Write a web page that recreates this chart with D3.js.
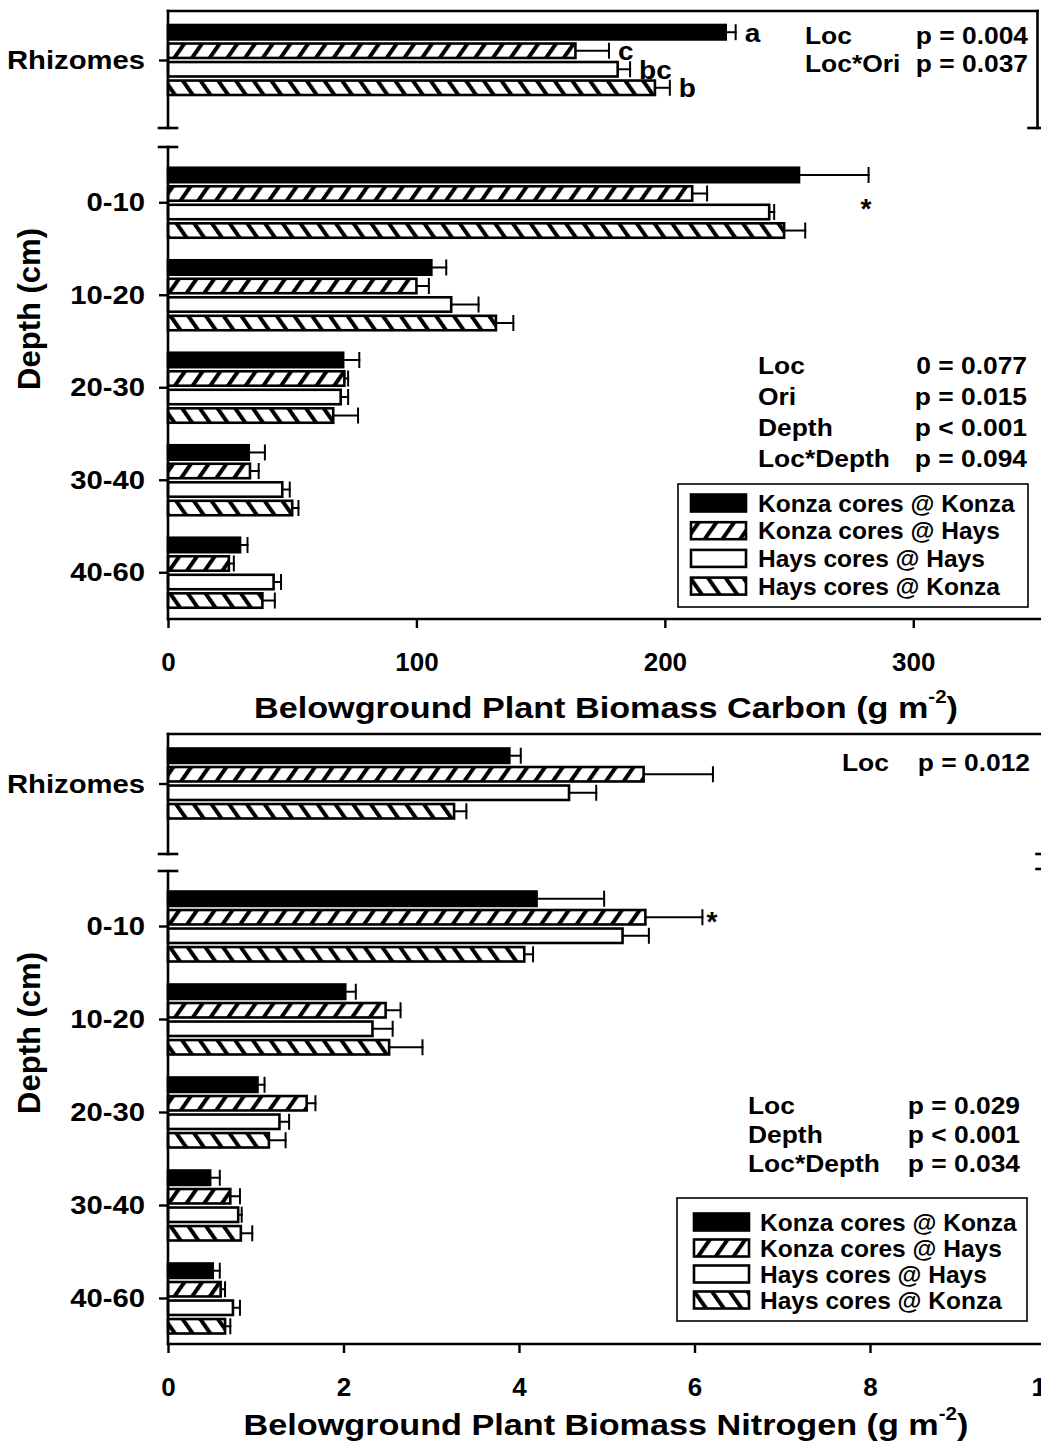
<!DOCTYPE html>
<html>
<head>
<meta charset="utf-8">
<script src="https://cdn.jsdelivr.net/npm/d3@7"></script>
<style>
  body { margin: 0; background: #fff; }
  svg { display: block; }
  text { font-family: "Liberation Sans", Arial, Helvetica, sans-serif; font-weight: bold; fill: #000; }
</style>
</head>
<body>
<svg id="fig" width="1041" height="1450"></svg>
<script>
// ---- data ----
const series = ["Konza cores @ Konza", "Konza cores @ Hays", "Hays cores @ Hays", "Hays cores @ Konza"];
const depths = ["0-10", "10-20", "20-30", "30-40", "40-60"];
const rhizomeCat = ["Rhizomes"];

// Belowground plant biomass carbon (g m-2): means and standard errors
const carbonRhizome = [224.5, 164, 181, 196];
const carbonRhizomeSE = [4, 13.5, 5, 6];
const carbonRhizomeLetters = ["a", "c", "bc", "b"];
const carbonDepth = [
  [254, 211, 242, 248],
  [106, 100, 114, 132],
  [70.5, 71, 69.5, 66.5],
  [32.5, 33, 46, 50],
  [29, 24.5, 42.5, 38]
];
const carbonDepthSE = [
  [28, 6, 2, 8.5],
  [6, 5, 11, 7],
  [6.5, 1.5, 3, 10],
  [6.5, 3.5, 3, 2.5],
  [3, 2, 3, 5]
];
const carbonTicks = [0, 100, 200, 300];

// Belowground plant biomass nitrogen (g m-2)
const nitroRhizome = [3.89, 5.42, 4.57, 3.26];
const nitroRhizomeSE = [0.13, 0.79, 0.31, 0.14];
const nitroDepth = [
  [4.20, 5.44, 5.18, 4.06],
  [2.02, 2.48, 2.33, 2.52],
  [1.02, 1.58, 1.27, 1.15],
  [0.48, 0.71, 0.80, 0.83],
  [0.51, 0.60, 0.74, 0.65]
];
const nitroDepthSE = [
  [0.77, 0.65, 0.30, 0.10],
  [0.12, 0.17, 0.23, 0.38],
  [0.08, 0.10, 0.11, 0.19],
  [0.11, 0.11, 0.04, 0.13],
  [0.08, 0.05, 0.08, 0.06]
];
const nitroTicks = [0, 2, 4, 6, 8, 10];

// Statistics printed on the panels
const carbonRhizomeStats = [["Loc", "p = 0.004"], ["Loc*Ori", "p = 0.037"]];
const carbonDepthStats = [["Loc", "0 = 0.077"], ["Ori", "p = 0.015"], ["Depth", "p < 0.001"], ["Loc*Depth", "p = 0.094"]];
const nitroRhizomeStats = [["Loc", "p = 0.012"]];
const nitroDepthStats = [["Loc", "p = 0.029"], ["Depth", "p < 0.001"], ["Loc*Depth", "p = 0.034"]];

// ---- drawing ----
const svg = d3.select("#fig");
const defs = svg.append("defs");

// diagonal hatching: "fwd" = /, "back" = \
function hatch(id, angle) {
  const p = defs.append("pattern")
    .attr("id", id)
    .attr("patternUnits", "userSpaceOnUse")
    .attr("width", 14.5).attr("height", 14.5)
    .attr("patternTransform", `rotate(${angle})`);
  p.append("rect").attr("width", 14.5).attr("height", 14.5).attr("fill", "#fff");
  p.append("rect").attr("x", 0).attr("width", 4).attr("height", 14.5).attr("fill", "#000");
}
hatch("fwd", 35);
hatch("back", -35);
const fills = ["#000", "url(#fwd)", "#fff", "url(#back)"];

function line(g, x1, y1, x2, y2, w = 2.6) {
  g.append("line").attr("x1", x1).attr("y1", y1).attr("x2", x2).attr("y2", y2)
    .attr("stroke", "#000").attr("stroke-width", w).attr("stroke-linecap", "square");
}

function label(g, x, y, s, size, opts = {}) {
  const sx = opts.sx || 1;
  return g.append("text")
    .attr("transform", `translate(${x},${y}) scale(${sx},1)`)
    .attr("font-size", size)
    .attr("text-anchor", opts.anchor || "start")
    .attr("dominant-baseline", opts.baseline || "central")
    .text(s);
}

function drawGroup(g, x, yCenter, inner, vals, ses) {
  const x0 = x(0);
  vals.forEach((v, i) => {
    const y = yCenter + inner(series[i]);
    const h = inner.bandwidth();
    const xe = x(v + ses[i]);
    // error bar
    line(g, x(v), y + h / 2, xe, y + h / 2, 2);
    line(g, xe, y + h / 2 - 7, xe, y + h / 2 + 7, 2);
    g.append("rect")
      .attr("x", x0).attr("y", y)
      .attr("width", x(v) - x0).attr("height", h)
      .attr("fill", fills[i]).attr("stroke", "#000").attr("stroke-width", 2.6);
  });
}

function legend(g, x0, y0, w, h, swX, rowY, txtX) {
  g.append("rect").attr("x", x0).attr("y", y0).attr("width", w).attr("height", h)
    .attr("fill", "#fff").attr("stroke", "#000").attr("stroke-width", 1.6);
  series.forEach((s, i) => {
    const cy = rowY(i);
    g.append("rect").attr("x", swX).attr("y", cy - 8.5).attr("width", 55).attr("height", 17)
      .attr("fill", fills[i]).attr("stroke", "#000").attr("stroke-width", 2.6);
    label(g, txtX, cy, s, 24.5);
  });
}

// two-column statistics block; the value column is right-aligned
function stats(g, rows, x1, x2end, y0, dy, size, sx) {
  rows.forEach((r, i) => {
    label(g, x1, y0 + i * dy, r[0], size, { sx });
    label(g, x2end, y0 + i * dy, r[1], size, { sx, anchor: "end" });
  });
}

function panel(cfg) {
  const g = svg.append("g");
  const x = d3.scaleLinear().domain(cfg.xDomain).range([168, cfg.xRight]);
  const yR = d3.scaleBand().domain(rhizomeCat).range(cfg.rhizRange);
  const yD = d3.scaleBand().domain(depths).range(cfg.depthRange);
  const inner = d3.scaleBand().domain(series).range([-35, 35]).paddingInner(0.22);

  const rc = yR("Rhizomes") + yR.bandwidth() / 2;
  // bars
  drawGroup(g, x, rc, inner, cfg.rhiz, cfg.rhizSE);
  depths.forEach((d, k) => {
    drawGroup(g, x, yD(d) + yD.bandwidth() / 2, inner, cfg.depth[k], cfg.depthSE[k]);
  });

  // frame and broken axes
  const top = cfg.rhizRange[0] - cfg.rhizTopPad;
  const xr = x(cfg.xDomain[1]);
  line(g, 168, top, xr, top);
  line(g, 168, top, 168, cfg.breakTop);
  line(g, 159, cfg.breakTop, 177, cfg.breakTop);
  line(g, 159, cfg.breakBottom, 177, cfg.breakBottom);
  line(g, 168, cfg.breakBottom, 168, cfg.axisY);
  line(g, xr, top, xr, cfg.breakTop);
  line(g, xr - 9, cfg.breakTop, xr + 9, cfg.breakTop);
  if (cfg.rightBreak2) line(g, xr - 9, cfg.breakBottom - 2, xr + 9, cfg.breakBottom - 2);
  line(g, 168, cfg.axisY, 1041, cfg.axisY);

  // category axis ticks and labels
  const yAxisR = d3.axisLeft(d3.scalePoint().domain(rhizomeCat).range([rc, rc])).tickSize(9).tickSizeOuter(0);
  const yAxisD = d3.axisLeft(yD).tickSize(9).tickSizeOuter(0);
  [yAxisR, yAxisD].forEach(axis => {
    const a = g.append("g").attr("transform", "translate(168,0)").call(axis);
    a.select(".domain").remove();
    a.selectAll(".tick line").attr("stroke", "#000").attr("stroke-width", 2.4);
    a.selectAll(".tick text")
      .attr("font-size", 25).attr("font-family", null)
      .attr("x", null).attr("dy", null)
      .attr("dominant-baseline", "central")
      .attr("transform", "translate(-23,0) scale(1.17,1)");
  });

  // value axis
  const xAxis = d3.axisBottom(x).tickValues(cfg.ticks).tickSize(9).tickSizeOuter(0).tickFormat(d3.format("d"));
  const ax = g.append("g").attr("transform", `translate(0,${cfg.axisY})`).call(xAxis);
  ax.select(".domain").remove();
  ax.selectAll(".tick line").attr("stroke", "#000").attr("stroke-width", 2.4);
  ax.selectAll(".tick text").attr("font-size", 26).attr("font-family", null)
    .attr("y", 43).attr("dy", "0.36em");

  // axis titles
  const xt = g.append("text")
    .attr("transform", `translate(${cfg.titleX},${cfg.axisY + cfg.titleDy}) scale(1.14,1)`)
    .attr("font-size", 30).attr("text-anchor", "middle").attr("dominant-baseline", "central");
  xt.append("tspan").text(cfg.title + " (g m");
  xt.append("tspan").attr("font-size", 18).attr("dy", -12).text("-2");
  xt.append("tspan").attr("dy", 12).text(")");

  g.append("text")
    .attr("transform", `translate(29,${cfg.yTitleY}) rotate(-90)`)
    .attr("font-size", 31).attr("text-anchor", "middle").attr("dominant-baseline", "central")
    .text("Depth (cm)");

  return { g, x, yD, inner, rc };
}

// ---- Carbon panel ----
const C = panel({
  xDomain: [0, 350], xRight: 1037.5, ticks: carbonTicks,
  rhizRange: [13.5, 106.5], rhizTopPad: 2.5,
  depthRange: [156.5, 619],
  breakTop: 128, breakBottom: 147, axisY: 619,
  rhiz: carbonRhizome, rhizSE: carbonRhizomeSE,
  depth: carbonDepth, depthSE: carbonDepthSE,
  title: "Belowground Plant Biomass Carbon", titleX: 606, titleDy: 89,
  yTitleY: 309
});
// significance letters on rhizome bars
carbonRhizome.forEach((v, i) => {
  const y = C.rc + C.inner(series[i]) + C.inner.bandwidth() / 2;
  label(C.g, C.x(v + carbonRhizomeSE[i]) + 9, y + 1, carbonRhizomeLetters[i], 25, { sx: 1.12 });
});
label(C.g, 866, 218, "*", 28, { anchor: "middle", baseline: "auto" });
stats(C.g, carbonRhizomeStats, 805, 1028, 35, 28.5, 24, 1.1);
stats(C.g, carbonDepthStats, 758, 1027, 365, 31, 24, 1.1);
legend(C.g, 678, 484, 350, 123, 691, i => 503 + i * 27.7, 758);

// ---- Nitrogen panel ----
const N = panel({
  xDomain: [0, 10], xRight: 1045.5, ticks: nitroTicks,
  rhizRange: [737, 830], rhizTopPad: 3,
  depthRange: [880, 1345],
  breakTop: 854, breakBottom: 871, axisY: 1344, rightBreak2: true,
  rhiz: nitroRhizome, rhizSE: nitroRhizomeSE,
  depth: nitroDepth, depthSE: nitroDepthSE,
  title: "Belowground Plant Biomass Nitrogen", titleX: 606, titleDy: 81,
  yTitleY: 1033
});
label(N.g, 712, 931, "*", 28, { anchor: "middle", baseline: "auto" });
stats(N.g, nitroRhizomeStats, 842, 1030, 762, 28, 24, 1.1);
stats(N.g, nitroDepthStats, 748, 1020, 1105, 29, 24, 1.1);
legend(N.g, 677, 1198, 350, 123, 694, i => 1222 + i * 26, 760);
</script>
</body>
</html>
